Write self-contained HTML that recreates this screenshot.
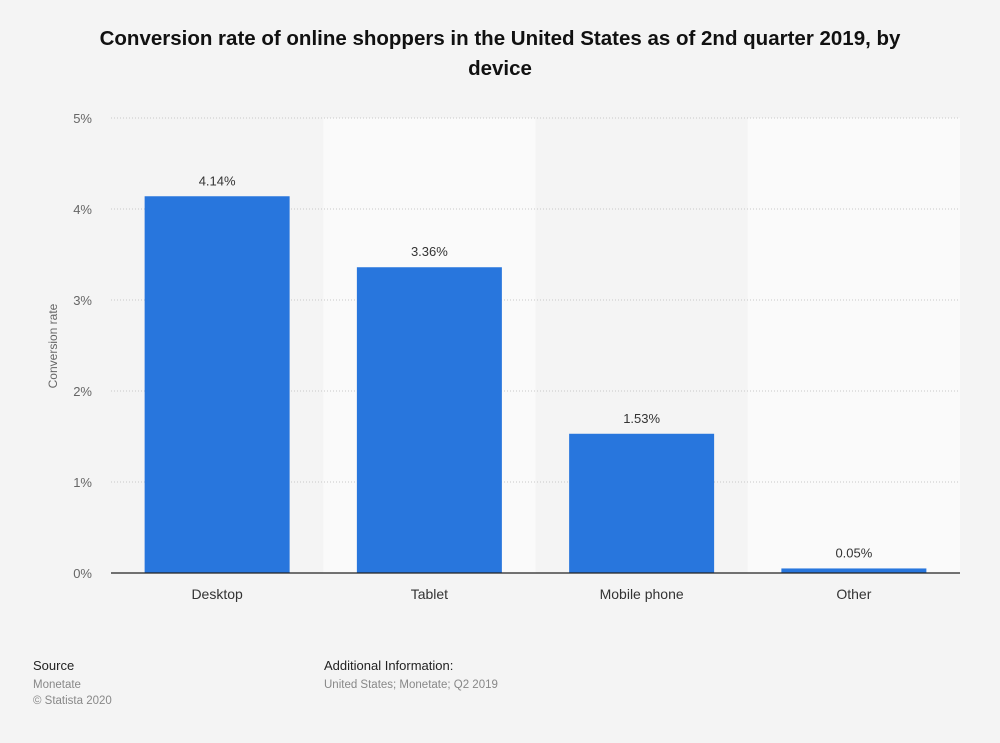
<!DOCTYPE html>
<html><head><meta charset="utf-8"><style>
body{margin:0;background:#f4f4f4;font-family:"Liberation Sans",Arial,sans-serif;}
</style></head><body>
<svg width="1000" height="743" xmlns="http://www.w3.org/2000/svg" style="display:block">
<rect width="1000" height="743" fill="#f4f4f4"/>
<text x="500" y="45" text-anchor="middle" font-size="20.5" font-weight="bold" fill="#111">Conversion rate of online shoppers in the United States as of 2nd quarter 2019, by</text>
<text x="500" y="75" text-anchor="middle" font-size="20.5" font-weight="bold" fill="#111">device</text>
<g id="plot"></g>
<text transform="translate(57,346) rotate(-90)" text-anchor="middle" font-size="12" fill="#666">Conversion rate</text>
<text x="33" y="670" font-size="13" fill="#222">Source</text>
<text x="33" y="688" font-size="11.5" fill="#888">Monetate</text>
<text x="33" y="704" font-size="11.5" fill="#888">© Statista 2020</text>
<text x="324" y="670" font-size="13" fill="#222">Additional Information:</text>
<text x="324" y="688" font-size="11.5" fill="#888">United States; Monetate; Q2 2019</text>
</svg>
<script>
const categories=["Desktop","Tablet","Mobile phone","Other"];
const values=[4.14,3.36,1.53,0.05];
const labels=["4.14%","3.36%","1.53%","0.05%"];
const yTicks=[0,1,2,3,4,5];
const yTickLabels=["0%","1%","2%","3%","4%","5%"];
const NS="http://www.w3.org/2000/svg";
const g=document.getElementById('plot');
const x0=111,x1=960,yBase=573,yTop=118,yMax=5;
const bw=(x1-x0)/categories.length;
const y=v=>yBase-(v/yMax)*(yBase-yTop);
const xc=i=>x0+bw*(i+0.5);
function mk(t,a){const e=document.createElementNS(NS,t);for(const k in a)e.setAttribute(k,a[k]);g.appendChild(e);return e;}
categories.forEach((c,i)=>{if(i%2===1){const r=mk('rect',{x:x0+bw*i,y:yTop,width:bw,height:yBase-yTop,fill:'#fafafa'});

}});
yTicks.forEach((t,i)=>{
if(t>0){const l=mk('line',{x1:x0,x2:x1,y1:y(t),y2:y(t),stroke:'#c8c8c8','stroke-dasharray':'1,2'});

}
const tx=mk('text',{x:92,y:y(t)+5,'text-anchor':'end','font-size':13,fill:'#666'});tx.textContent=yTickLabels[i];


});
categories.forEach((c,i)=>{
const w=145;
const r=mk('rect',{x:xc(i)-w/2,y:y(values[i]),width:w,height:yBase-y(values[i]),fill:'#2876dd'});


const v=mk('text',{x:xc(i),y:y(values[i])-11,'text-anchor':'middle','font-size':13,fill:'#333'});v.textContent=labels[i];


const xl=mk('text',{x:xc(i),y:599,'text-anchor':'middle','font-size':14,fill:'#333'});xl.textContent=c;


});
const b=mk('line',{x1:x0,x2:x1,y1:yBase,y2:yBase,stroke:'#222','stroke-width':1.2});


</script>
</body></html>
